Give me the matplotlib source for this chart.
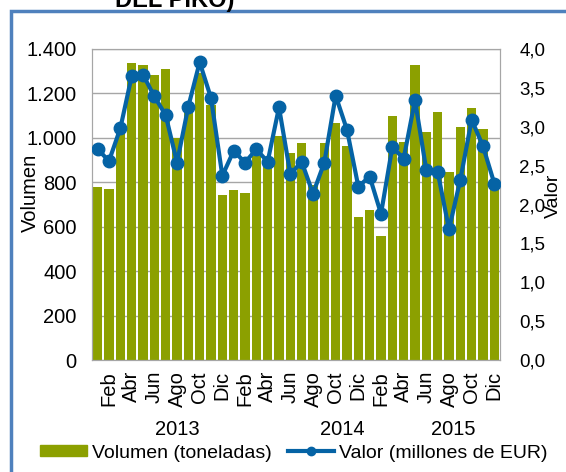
import numpy as np
import matplotlib
matplotlib.use("Agg")
import matplotlib.pyplot as plt
from matplotlib.patches import Rectangle, Patch
from matplotlib.lines import Line2D
from matplotlib.ticker import FuncFormatter

plt.rcParams['font.family'] = ['Liberation Sans', 'DejaVu Sans']

meses = ["Ene", "Feb", "Mar", "Abr", "May", "Jun", "Jul", "Ago", "Sep", "Oct", "Nov", "Dic"]
anios = ["2013", "2014", "2015"]

volumen = [780, 770, 1040, 1335, 1326, 1284, 1308, 1000, 1163, 1290, 1150, 742,
           765, 753, 920, 900, 1010, 933, 975, 790, 975, 1068, 963, 645,
           675, 558, 1097, 981, 1326, 1026, 1116, 846, 1050, 1134, 1041, 810]
valor = [2.71, 2.56, 2.98, 3.65, 3.67, 3.39, 3.15, 2.54, 3.26, 3.83, 3.37, 2.37,
         2.69, 2.54, 2.71, 2.55, 3.25, 2.39, 2.55, 2.14, 2.54, 3.40, 2.96, 2.23,
         2.36, 1.88, 2.74, 2.59, 3.34, 2.44, 2.42, 1.68, 2.32, 3.09, 2.75, 2.27]

verde = '#8ca000'
azul = '#0563a5'
fs = 14.5

x = np.arange(len(volumen))

fig = plt.figure(figsize=(5.66, 4.72), dpi=100)
ax = fig.add_axes([92/566, 1 - 360/472, 408/566, 311/472])
ax2 = ax.twinx()

ax.bar(x, volumen, width=0.82, color=verde, zorder=2)
ax.set_ylim(0, 1400)
ax.set_xlim(-0.5, len(volumen) - 0.5)
ax.set_yticks(range(0, 1401, 200))
ax.yaxis.set_major_formatter(FuncFormatter(lambda v, p: f"{int(v):,}".replace(",", ".")))
ax.grid(axis='y', color='#a6a6a6', lw=1, zorder=0)
ax.set_axisbelow(True)

ax2.plot(x, valor, color=azul, lw=3, marker='o', ms=9, zorder=3)
ax2.set_ylim(0, 4.0)
ax2.set_yticks(np.arange(0, 4.01, 0.5))
ax2.yaxis.set_major_formatter(FuncFormatter(lambda v, p: f"{v:.1f}".replace(".", ",")))

ticks = x[1::2]
ax.set_xticks(ticks)
ax.set_xticklabels([meses[i % 12] for i in ticks], rotation=90, fontsize=fs)

for a in (ax, ax2):
    for s in a.spines.values():
        s.set_color('#a6a6a6')
    a.tick_params(length=0, labelsize=fs)
ax.tick_params(axis='y', pad=11)
ax2.tick_params(axis='y', pad=14, labelsize=13.5)
ax.tick_params(axis='x', pad=8)

ax.set_ylabel("Volumen", fontsize=fs)
ax.yaxis.set_label_coords(-0.127, 0.537)
ax2.set_ylabel("Valor", fontsize=14)
ax2.yaxis.set_label_coords(1.111, 0.527)

for pos, anio in zip([7.0, 21.6, 31.4], anios):
    ax.text(pos, -0.225, anio, transform=ax.get_xaxis_transform(),
            ha='center', va='center', fontsize=fs)

handles = [Patch(color=verde, label="Volumen (toneladas)"),
           Line2D([], [], color=azul, lw=3, marker='o', ms=6, label="Valor (millones de EUR)")]
fig.legend(handles=handles, loc='center left', bbox_to_anchor=(40/566, 1 - 453/472),
           ncol=2, frameon=False, fontsize=14, handlelength=2.4, handleheight=0.55,
           handletextpad=0.25, columnspacing=0.85, borderpad=0, borderaxespad=0)

fig.patches.append(Rectangle((11/566, -0.1), 2, 1 - 11/472 + 0.1, fill=False,
                             edgecolor='#4f81bd', lw=2.5, transform=fig.transFigure))
fig.text(115/566, 1 - 7/472, "DEL PIKO)", fontsize=17, fontweight='bold', va='baseline')

fig.savefig("out.png", dpi=100)
